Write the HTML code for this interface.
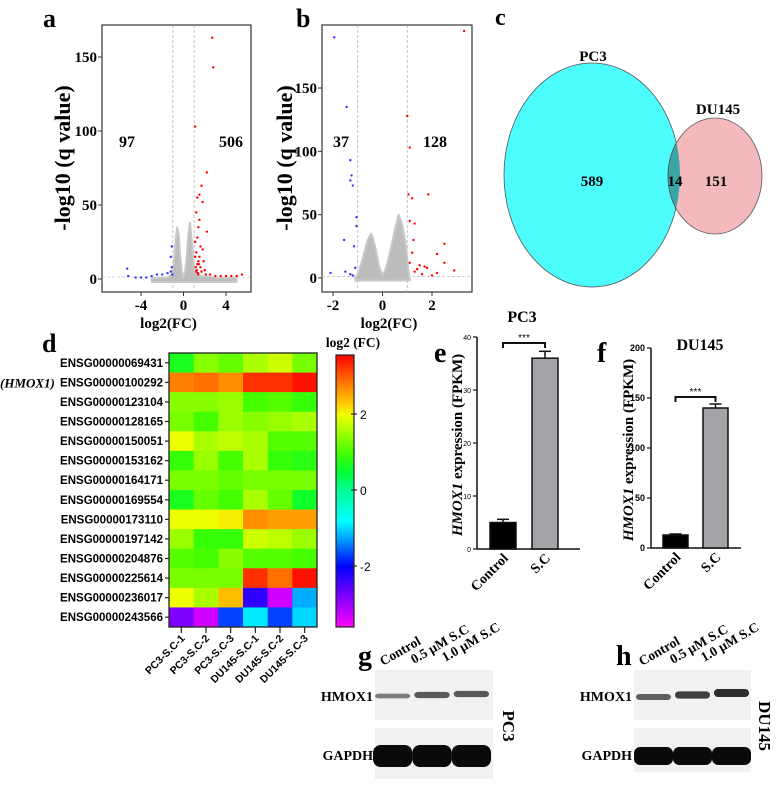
<!DOCTYPE html>
<html><head><meta charset="utf-8">
<style>
html,body{margin:0;padding:0;background:#fff;}
svg{display:block;}
.serif{font-family:"Liberation Serif",serif;font-weight:bold;}
.sans{font-family:"Liberation Sans",sans-serif;font-weight:bold;}
</style></head>
<body>
<svg id="fig" width="779" height="786" viewBox="0 0 779 786" xmlns="http://www.w3.org/2000/svg">
<rect width="779" height="786" fill="#fff"/>
</svg>
<script>
// ---- Panel a data ----
const aXTicks=[-4,0,4];
const aYTicks=[0,50,100,150];
const aRedX=[2.7,2.8,1.1,2.2,1.7,1.5,1.8,1.3,1.2,1.5,2.2,1.4,1.1,1.8,1.5,1.3,1.6,2.0,2.5,3.0,3.5,4.0,4.5,5.0,5.5,1.2,1.4,1.1,1.9,1.3,1.2,1.6,1.4,1.15,1.25,1.35,1.45,1.7,2.1];
const aRedY=[163,143,103,72,63,57,52,55,45,40,32,35,25,20,15,10,8,6,3,2,2,2,2,2,3,5,3,15,12,28,18,22,12,8,6,4,10,5,3];
const aBlueX=[-5.3,-5.2,-4.5,-4.0,-3.5,-3.0,-2.5,-2.0,-1.5,-1.2,-1.1,-1.2,-1.1,-1.05];
const aBlueY=[7,2,1,1,1,2,3,3,4,5,8,15,22,3];
const aGrayX=[-3,-1.5,-1.1,-0.9,-0.75,-0.6,-0.45,-0.3,-0.15,0,0.15,0.3,0.45,0.6,0.75,0.9,1.05,1.5,3,5,5,-3];
const aGrayY=[0.5,1,3,10,25,35,30,15,5,1,5,15,30,38,28,15,5,2,1,0.5,-2,-2];
// ---- Panel b data ----
const bXTicks=[-2,0,2];
const bYTicks=[0,50,100,150];
const bRedX=[1.0,1.1,1.2,1.05,1.1,1.3,1.85,1.25,2.5,2.2,1.2,1.5,1.8,2.5,2.9,1.3,1.6,2.0,2.2,3.3,1.1,1.4,1.7];
const bRedY=[128,103,63,66,45,43,66,30,27,19,20,10,8,12,6,5,3,2,4,195,12,7,9];
const bBlueX=[-1.95,-1.45,-1.3,-1.25,-1.3,-1.2,-1.05,-1.05,-1.55,-1.15,-2.1,-1.5,-1.3,-1.1,-1.2];
const bBlueY=[190,135,93,81,77,73,48,41,30,25,4,5,3,8,2];
const bGrayX=[-1.1,-1,-0.8,-0.6,-0.45,-0.3,-0.15,0,0.15,0.3,0.5,0.65,0.8,0.95,1.05,1.1,1.1,-1.1];
const bGrayY=[0.5,3,15,30,35,25,10,2,8,20,38,50,42,25,5,0.5,-2,-2];
// ---- Venn data ----
const vennLabels=["PC3","DU145"];
const vennCounts=[589,14,151];
// ---- Heatmap data ----
const hmRows=["ENSG00000069431","ENSG00000100292","ENSG00000123104","ENSG00000128165","ENSG00000150051","ENSG00000153162","ENSG00000164171","ENSG00000169554","ENSG00000173110","ENSG00000197142","ENSG00000204876","ENSG00000225614","ENSG00000236017","ENSG00000243566"];
const hmCols=["PC3-S.C-1","PC3-S.C-2","PC3-S.C-3","DU145-S.C-1","DU145-S.C-2","DU145-S.C-3"];
const hmValues=[
[0.7,1.4,1.2,1.6,1.8,1.3],
[2.8,2.9,2.7,3.3,3.3,3.5],
[1.4,1.4,1.5,1.0,1.1,0.9],
[1.3,1.0,1.5,1.4,1.5,1.6],
[2.0,1.6,1.7,1.6,1.1,1.1],
[0.9,1.5,1.0,1.6,0.9,0.8],
[1.3,1.3,1.2,1.3,1.3,1.3],
[0.7,1.2,1.0,1.6,1.2,0.6],
[2.0,2.0,2.1,2.7,2.6,2.6],
[1.5,0.9,0.9,1.8,1.7,1.5],
[1.1,1.0,1.4,1.1,1.1,1.0],
[1.3,1.3,1.3,3.3,2.9,3.5],
[2.0,1.6,2.4,-2.3,-3.3,-1.2],
[-2.8,-3.3,-1.7,-0.9,-1.7,-1.0]];
const cbTicks=[2,0,-2];
// ---- Bar data ----
const barCats=["Control","S.C"];
const eValues=[5,36];
const eErrors=[0.6,1.3];
const eTicks=[0,10,20,30,40];
const fValues=[13,140];
const fErrors=[1,4];
const fTicks=[0,50,100,150,200];
// ---- Blot data ----
const blotLanes=["Control","0.5 \u03bcM S.C","1.0 \u03bcM S.C"];
const gHmox=[0.35,0.65,0.65];
const hHmox=[0.6,0.85,1.0];

const NS="http://www.w3.org/2000/svg";
const svg=document.getElementById('fig');
function mk(tag,attrs,parent,text){const e=document.createElementNS(NS,tag);for(const k in attrs)e.setAttribute(k,attrs[k]);if(text!==undefined)e.textContent=text;(parent||svg).appendChild(e);return e;}
function lin(d0,d1,r0,r1){return v=>r0+(v-d0)*(r1-r0)/(d1-d0);}

// ---------- Volcano ----------
function volcano(p){
  const g=mk('g',{});
  
  
  const sx=lin(p.xd[0],p.xd[1],p.xr[0],p.xr[1]);
  const sy=lin(0,p.yd,p.y0,p.y1);
  mk('rect',{x:p.box[0],y:25,width:p.box[1]-p.box[0],height:267,fill:'#fff',stroke:'#333','stroke-width':1.2},g);
  mk('line',{x1:p.box[0],x2:p.box[1],y1:sy(1.3),y2:sy(1.3),stroke:'#bbb','stroke-dasharray':'3,2','stroke-width':0.7},g);
  [-1,1].forEach(v=>mk('line',{x1:sx(v),x2:sx(v),y1:25,y2:292,stroke:'#aaa','stroke-dasharray':'3,2','stroke-width':0.7},g));
  let pts=p.gx.map((x,i)=>sx(x).toFixed(1)+','+Math.min(sy(p.gy[i]),284).toFixed(1)).join(' ');
  const gc=mk('polygon',{points:pts,fill:'#bcbcbc',stroke:'#c8c8c8','stroke-width':2,'stroke-linejoin':'round'},g);
  
  
  p.rx.forEach((x,i)=>{const c=mk('circle',{cx:sx(x),cy:Math.max(sy(p.ry[i]),26),r:1.2,fill:'#f00'},g);
    });
  p.bx.forEach((x,i)=>{const c=mk('circle',{cx:sx(x),cy:Math.max(sy(p.by[i]),26),r:1.2,fill:'#33f'},g);
    });
  p.yt.forEach(v=>{mk('line',{x1:p.box[0]-4,x2:p.box[0],y1:sy(v),y2:sy(v),stroke:'#333'},g);
    const t=mk('text',{x:p.box[0]-5,y:sy(v)+5,'text-anchor':'end','font-size':15,class:'serif'},g,String(v));
    });
  p.xt.forEach(v=>{mk('line',{x1:sx(v),x2:sx(v),y1:292,y2:296,stroke:'#333'},g);
    const t=mk('text',{x:sx(v),y:310,'text-anchor':'middle','font-size':15,class:'serif'},g,String(v));
    });
  let t=mk('text',{x:(p.box[0]+p.box[1])/2-8,y:328,'text-anchor':'middle','font-size':15,class:'serif'},g,'log2(FC)');
  
  t=mk('text',{x:0,y:0,'text-anchor':'middle','font-size':22,class:'serif',transform:`translate(${p.ytx},158) rotate(-90)`},g,'-log10 (q value)');
  
  t=mk('text',{x:p.nl[0],y:147,'text-anchor':'middle','font-size':16,class:'serif'},g,p.nl[1]);
  
  t=mk('text',{x:p.nr[0],y:147,'text-anchor':'middle','font-size':16,class:'serif'},g,p.nr[1]);
  
  t=mk('text',{x:p.lab[0],y:27,'font-size':26,class:'serif'},g,p.lab[1]);
  
}
volcano({name:'volcano-plot-a',box:[102,251],xd:[-4,4],xr:[141,226],yd:150,y0:279,y1:57,
  rx:aRedX,ry:aRedY,bx:aBlueX,by:aBlueY,gx:aGrayX,gy:aGrayY,xt:aXTicks,yt:aYTicks,ytx:70,nl:[127,'97'],nr:[231,'506'],lab:[43,'a']});
volcano({name:'volcano-plot-b',box:[322,472],xd:[-2,2],xr:[333,432],yd:150,y0:278,y1:88,
  rx:bRedX,ry:bRedY,bx:bBlueX,by:bBlueY,gx:bGrayX,gy:bGrayY,xt:bXTicks,yt:bYTicks,ytx:292,nl:[341,'37'],nr:[435,'128'],lab:[296,'b']});

// ---------- Venn ----------
(function(){
  const g=mk('g',{});
  const d=mk('defs',{},g);
  const cp=mk('clipPath',{id:'pcclip'},d);
  mk('ellipse',{cx:592,cy:175,rx:88,ry:112},cp);
  let e=mk('ellipse',{cx:592,cy:175,rx:88,ry:112,fill:'#4dfcfc',stroke:'#555','stroke-width':0.8},g);
  
  e=mk('ellipse',{cx:715,cy:176,rx:47,ry:58,fill:'#f4b9bc',stroke:'#555','stroke-width':0.8},g);
  
  e=mk('ellipse',{cx:715,cy:176,rx:47,ry:58,fill:'#3aa5a5',stroke:'#555','stroke-width':0.8,'clip-path':'url(#pcclip)'},g);
  
  let t=mk('text',{x:593,y:61,'text-anchor':'middle','font-size':15,class:'serif'},g,vennLabels[0]);
  
  t=mk('text',{x:718,y:114,'text-anchor':'middle','font-size':15,class:'serif'},g,vennLabels[1]);
  
  [[592,vennCounts[0]],[675,vennCounts[1]],[716,vennCounts[2]]].forEach(a=>{
    const t=mk('text',{x:a[0],y:186,'text-anchor':'middle','font-size':15,class:'serif'},g,String(a[1]));
    });
  t=mk('text',{x:495,y:25,'font-size':24,class:'serif'},g,'c');
  
})();

// ---------- Heatmap ----------
const cmapV=[3.6,2.8,2.3,2.0,1.5,1.0,0.5,0,-0.8,-1.3,-2,-2.8,-3.6];
const cmapC=[[255,0,0],[255,128,0],[255,204,0],[238,255,0],[153,255,0],[68,255,0],[0,255,51],[0,255,153],[0,255,255],[0,153,255],[0,0,255],[128,0,255],[255,0,255]];
function cmap(v){
  if(v>=cmapV[0])return 'rgb('+cmapC[0]+')';
  for(let i=0;i<cmapV.length-1;i++){if(v<=cmapV[i]&&v>=cmapV[i+1]){const f=(cmapV[i]-v)/(cmapV[i]-cmapV[i+1]);
    const c=cmapC[i].map((a,k)=>Math.round(a+(cmapC[i+1][k]-a)*f));return 'rgb('+c+')';}}
  return 'rgb('+cmapC[cmapC.length-1]+')';
}
(function(){
  const g=mk('g',{});
  const x0=169,x1=317,y0=353,y1=627;
  const cw=(x1-x0)/hmCols.length,rh=(y1-y0)/hmRows.length;
  function r2y(r){return y0+(r+0.5)*rh;}
  hmValues.forEach((row,r)=>row.forEach((v,c)=>{
    const cell=mk('rect',{x:x0+c*cw,y:y0+r*rh,width:cw+0.3,height:rh+0.3,fill:cmap(v)},g);
    
  }));
  mk('rect',{x:x0,y:y0,width:x1-x0,height:y1-y0,fill:'none',stroke:'#222','stroke-width':1.3},g);
  hmRows.forEach((n,r)=>{const y=r2y(r);
    mk('line',{x1:x0-4,x2:x0,y1:y,y2:y,stroke:'#222','stroke-width':1.2},g);
    const t=mk('text',{x:x0-6,y:y+4,'text-anchor':'end','font-size':11.5,class:'sans'},g,n);
    });
  let t=mk('text',{x:0,y:r2y(1)+5,'font-size':13,class:'serif','font-style':'italic'},g,'(HMOX1)');
  
  hmCols.forEach((n,c)=>{const x=x0+(c+0.5)*cw;
    mk('line',{x1:x,x2:x,y1:y1,y2:y1+6,stroke:'#222','stroke-width':1.2},g);
    const t=mk('text',{x:0,y:0,'text-anchor':'end','font-size':10.5,class:'sans',transform:`translate(${x+4},${y1+12}) rotate(-45)`},g,n);
    });
  const cb=mk('g',{},g);
  const defs=mk('defs',{},cb);
  const lg=mk('linearGradient',{id:'cbg',x1:0,y1:0,x2:0,y2:1},defs);
  const cy0=355,cy1=627,cyv=lin(3.6,-3.6,cy0,cy1);
  cmapV.forEach((v,i)=>mk('stop',{offset:((cyv(v)-cy0)/(cy1-cy0)).toFixed(3),'stop-color':'rgb('+cmapC[i]+')'},lg));
  mk('rect',{x:336,y:cy0,width:18,height:cy1-cy0,fill:'url(#cbg)',stroke:'#222','stroke-width':1.2},cb);
  const cscale=v=>490-38*v;
  cbTicks.forEach(v=>{mk('line',{x1:351,x2:357,y1:cscale(v),y2:cscale(v),stroke:'#222','stroke-width':1.2},cb);
    const t=mk('text',{x:360,y:cscale(v)+5,'font-size':12,'font-family':'Liberation Sans, sans-serif'},cb,String(v));
    });
  t=mk('text',{x:353,y:347,'text-anchor':'middle','font-size':13.5,class:'serif'},cb,'log2 (FC)');
  
  t=mk('text',{x:42,y:352,'font-size':26,class:'serif'},g,'d');
  
})();

// ---------- Bar charts ----------
function bars(p){
  const g=mk('g',{});
  const sy=lin(0,p.max,p.y0,p.y1);
  p.ticks.forEach(v=>{mk('line',{x1:p.ax-4,x2:p.ax,y1:sy(v),y2:sy(v),stroke:'#111','stroke-width':1.2},g);
    const t=mk('text',{x:p.ax-6,y:sy(v)+3,'text-anchor':'end','font-size':p.tfs,'font-family':'Liberation Sans, sans-serif','font-weight':p.tfw},g,String(v));
    });
  mk('line',{x1:p.ax,x2:p.ax,y1:p.y1,y2:p.y0,stroke:'#111','stroke-width':1.5},g);
  mk('line',{x1:p.ax,x2:p.xe,y1:p.y0,y2:p.y0,stroke:'#111','stroke-width':1.5},g);
  p.vals.forEach((v,i)=>{const x=p.bx[i];
    const b=mk('rect',{x:x,y:sy(v),width:p.bw,height:p.y0-sy(v),fill:i?'#a3a3a8':'#000',stroke:'#111','stroke-width':1.5},g);
    
    const cx=x+p.bw/2,top=sy(v+p.errs[i]);
    mk('line',{x1:cx,x2:cx,y1:sy(v),y2:top,stroke:'#111','stroke-width':1.5},g);
    mk('line',{x1:cx-6,x2:cx+6,y1:top,y2:top,stroke:'#111','stroke-width':1.5},g);
    const t=mk('text',{x:0,y:0,'text-anchor':'end','font-size':14,class:'serif',transform:`translate(${cx+6},${p.y0+10}) rotate(-45)`},g,barCats[i]);
    });
  const c0=p.bx[0]+p.bw/2,c1=p.bx[1]+p.bw/2,by=p.brY;
  const br=mk('path',{d:`M${c0},${by+5}V${by}H${c1}V${by+5}`,fill:'none',stroke:'#111','stroke-width':2},g);
  
  let t=mk('text',{x:(c0+c1)/2,y:by-2,'text-anchor':'middle','font-size':10,'font-family':'Liberation Sans, sans-serif'},g,'***');
  
  t=mk('text',{x:0,y:0,'text-anchor':'middle','font-size':15,class:'serif',transform:`translate(${p.ytx},${(p.y0+p.y1)/2+2}) rotate(-90)`},g);
  
  mk('tspan',{'font-style':'italic'},t,'HMOX1');mk('tspan',{},t,' expression (FPKM)');
  t=mk('text',{x:p.title[0],y:p.title[1],'text-anchor':'middle','font-size':16,class:'serif'},g,p.title[2]);
  
  t=mk('text',{x:p.lab[0],y:p.lab[1],'font-size':28,class:'serif'},g,p.lab[2]);
  
}
bars({name:'bar-chart-e',ax:477,xe:580,y0:549,y1:337,max:40,ticks:eTicks,vals:eValues,errs:eErrors,bx:[490,532],bw:26,brY:343,ytx:462,tfs:7,tfw:'normal',title:[522,322,'PC3'],lab:[434,362,'e']});
bars({name:'bar-chart-f',ax:651,xe:741,y0:548,y1:348,max:200,ticks:fTicks,vals:fValues,errs:fErrors,bx:[663,703],bw:25,brY:397,ytx:633,tfs:9,tfw:'bold',title:[700,350,'DU145'],lab:[597,362,'f']});

// ---------- Western blots ----------
function blot(p){
  const g=mk('g',{});
  const lw=(p.x1-p.x0)/3;
  mk('rect',{x:p.x0,y:670,width:p.x1-p.x0,height:50,fill:'#f1f1f1'},g);
  mk('rect',{x:p.x0,y:728,width:p.x1-p.x0,height:p.gh,fill:'#f1f1f1'},g);
  p.hm.forEach((v,i)=>{const cx=p.x0+(i+0.5)*lw+p.off;
    const b=mk('rect',{x:cx-lw*0.45,y:p.hy-i*p.tilt-(1.5+2.5*v),width:lw*0.9,height:3+5*v,rx:4,fill:'#222','fill-opacity':0.35+0.6*v},g);
    
    const b2=mk('rect',{x:cx-lw*0.5,y:756-p.gr,width:lw,height:p.gr*2,rx:p.gr*0.7,fill:'#0a0a0a'},g);
    });
  let t=mk('text',{x:p.x0-2,y:701,'text-anchor':'end','font-size':14,class:'serif'},g,'HMOX1');
  
  t=mk('text',{x:p.x0-2,y:760,'text-anchor':'end','font-size':14,class:'serif'},g,'GAPDH');
  
  t=mk('text',{x:0,y:0,'text-anchor':'middle','font-size':17,class:'serif',transform:`translate(${p.cl[0]},${p.cl[1]}) rotate(90)`},g,p.cl[2]);
  
  blotLanes.forEach((n,i)=>{const t=mk('text',{x:0,y:0,'font-size':13.5,class:'serif',transform:`translate(${p.x0+8+i*31},${666-i*2}) rotate(-30)`},g,n);
    });
  t=mk('text',{x:p.lab[0],y:665,'font-size':28,class:'serif'},g,p.lab[1]);
  
}
blot({name:'western-blot-g',x0:375,x1:493,hm:gHmox,hy:696,tilt:1,off:-2,gh:51,gr:11,cl:[503,726,'PC3'],lab:[358,'g']});
blot({name:'western-blot-h',x0:634,x1:751,hm:hHmox,hy:697,tilt:2,off:0,gh:44,gr:9,cl:[759,726,'DU145'],lab:[616,'h']});
</script>
</body></html>
